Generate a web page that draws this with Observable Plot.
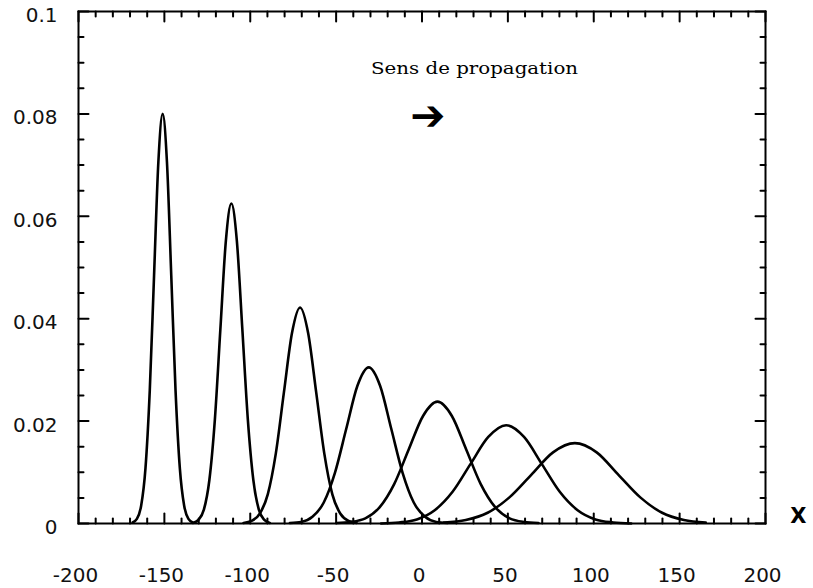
<!DOCTYPE html>
<html><head><meta charset="utf-8">
<script src="https://cdn.jsdelivr.net/npm/d3@7"></script>
<script src="https://cdn.jsdelivr.net/npm/@observablehq/plot@0.6"></script>
<style>body{margin:0;background:#fff;}#chart{width:813px;height:588px;}</style>
</head><body><div id="chart"></div>
<script>
// Axis ticks and labels
const xMajorTicks = [-200,-150,-100,-50,0,50,100,150,200];
const xTickLabels = ["-200","-150","-100","-50","0","50","100","150","200"];
const xMinorTicks = [-190,-180,-170,-160,-140,-130,-120,-110,-90,-80,-70,-60,-40,-30,-20,-10,10,20,30,40,60,70,80,90,110,120,130,140,160,170,180,190];
const yMajorTicks = [0,0.02,0.04,0.06,0.08,0.1];
const yTickLabels = ["0","0.02","0.04","0.06","0.08","0.1"];
const yMinorTicks = [0.005,0.01,0.015,0.025,0.03,0.035,0.045,0.05,0.055,0.065,0.07,0.075,0.085,0.09,0.095];

// Wave packets
const curve1X = [-168.5,-166,-163.5,-161,-158.5,-156,-153.5,-151,-148.5,-146,-143.5,-141,-138.5,-136,-133.5];
const curve1Y = [0.0002,0.0009,0.0035,0.0108,0.0260,0.0485,0.0706,0.0800,0.0706,0.0485,0.0260,0.0108,0.0035,0.0009,0.0002];
const curve2X = [-133.4,-130.2,-127,-123.8,-120.6,-117.4,-114.2,-111,-107.8,-104.6,-101.4,-98.2,-95,-91.8,-88.6];
const curve2Y = [0.0001,0.0007,0.0027,0.0085,0.0203,0.0379,0.0552,0.0625,0.0552,0.0379,0.0203,0.0085,0.0027,0.0007,0.0001];
const curve3X = [-103.9,-99.2,-94.5,-89.8,-85.1,-80.4,-75.7,-71,-66.3,-61.6,-56.9,-52.2,-47.5,-42.8,-38.1];
const curve3Y = [0.0001,0.0005,0.0019,0.0057,0.0137,0.0256,0.0372,0.0422,0.0372,0.0256,0.0137,0.0057,0.0019,0.0005,0.0001];
const curve4X = [-76.9,-70.3,-63.8,-57.2,-50.7,-44.1,-37.6,-31,-24.4,-17.9,-11.3,-4.8,1.8,8.3,14.9];
const curve4Y = [0.0001,0.0003,0.0013,0.0041,0.0099,0.0185,0.0269,0.0305,0.0269,0.0185,0.0099,0.0041,0.0013,0.0003,0.0001];
const curve5X = [-49.8,-41.4,-33,-24.6,-16.2,-7.8,0.6,9,17.4,25.8,34.2,42.6,51,59.4,67.8];
const curve5Y = [0.0001,0.0003,0.0010,0.0032,0.0077,0.0144,0.0210,0.0238,0.0210,0.0144,0.0077,0.0032,0.0010,0.0003,0.0001];
const curve6X = [-23.8,-13.4,-3,7.4,17.8,28.2,38.6,49,59.4,69.8,80.2,90.6,101,111.4,121.8];
const curve6Y = [0,0.0002,0.0008,0.0026,0.0062,0.0116,0.0169,0.0192,0.0169,0.0116,0.0062,0.0026,0.0008,0.0002,0];
const curve7X = [12.8,25.5,38.2,50.9,63.6,76.3,89,101.7,114.4,127.1,139.8,152.5,165.2];
const curve7Y = [0.0002,0.0007,0.0021,0.0051,0.0095,0.0139,0.0157,0.0139,0.0095,0.0051,0.0021,0.0007,0.0002];

// Annotations
const noteText = ["Sens de propagation"];
const noteX = [30.6];
const noteY = [0.0889];
const arrowGlyph = ["➔"];
const arrowX = [3.4];
const arrowY = [0.0795];
const axisName = ["X"];

const curvesX = [curve1X,curve2X,curve3X,curve4X,curve5X,curve6X,curve7X];
const curvesY = [curve1Y,curve2Y,curve3Y,curve4Y,curve5Y,curve6Y,curve7Y];
const rows = [];
curvesX.forEach((xs, k) => xs.forEach((x, i) => rows.push({id: k, x, y: curvesY[k][i]})));

const tickShape = {draw(ctx, l) { ctx.moveTo(0, 0); ctx.lineTo(0, -l); }};
const tk = {stroke: "black", strokeWidth: 2, anchor: "start", shape: tickShape};

const plot = Plot.plot({
  width: 813, height: 588,
  marginLeft: 78, marginRight: 48, marginTop: 11, marginBottom: 65,
  style: {fontFamily: "DejaVu Sans", fontSize: "20px", background: "white", color: "black"},
  x: {domain: [-200, 200]},
  y: {domain: [0, 0.1]},
  marks: [
    Plot.vector(xMajorTicks, {x: d => d, y: 0, length: 10, rotate: 0, ...tk}),
    Plot.vector(xMinorTicks, {x: d => d, y: 0, length: 5, rotate: 0, ...tk}),
    Plot.vector(xMajorTicks, {x: d => d, y: 0.1, length: 10, rotate: 180, ...tk}),
    Plot.vector(xMinorTicks, {x: d => d, y: 0.1, length: 5, rotate: 180, ...tk}),
    Plot.vector(yMajorTicks, {y: d => d, x: -200, length: 10, rotate: 90, ...tk}),
    Plot.vector(yMinorTicks, {y: d => d, x: -200, length: 5, rotate: 90, ...tk}),
    Plot.vector(yMajorTicks, {y: d => d, x: 200, length: 10, rotate: -90, ...tk}),
    Plot.vector(yMinorTicks, {y: d => d, x: 200, length: 5, rotate: -90, ...tk}),
    Plot.axisX(xMajorTicks, {anchor: "bottom", tickSize: 0, tickPadding: 44, dx: -3,
      tickFormat: d => xTickLabels[xMajorTicks.indexOf(d)], fontSize: 20, fontFamily: "DejaVu Sans", fill: "#111", label: null}),
    Plot.axisY(yMajorTicks, {anchor: "left", tickSize: 0, tickPadding: 21, dy: 4,
      tickFormat: d => yTickLabels[yMajorTicks.indexOf(d)], fontSize: 20, fontFamily: "DejaVu Sans", fill: "#111", label: null}),
    Plot.frame({stroke: "black", strokeWidth: 2}),
    Plot.line(rows, {x: "x", y: "y", z: "id", stroke: "black", strokeWidth: 2.6, curve: "monotone-x"}),
    Plot.text(noteText, {x: (d, i) => noteX[i], y: (d, i) => noteY[i], text: d => d,
      fontFamily: "DejaVu Serif", fontSize: 17, fill: "black"}),
    Plot.text(arrowGlyph, {x: (d, i) => arrowX[i], y: (d, i) => arrowY[i], text: d => d,
      fontFamily: "DejaVu Sans", fontSize: 42, fontWeight: "bold", fill: "black"}),
    Plot.text(axisName, {frameAnchor: "bottom-right", text: d => d, dx: 41, dy: -1,
      fontFamily: "DejaVu Sans", fontSize: 21, fontWeight: "bold", fill: "black"})
  ]
});
document.getElementById("chart").appendChild(plot);
plot.querySelectorAll("text").forEach(t => {
  if (t.textContent === noteText[0]) {
    t.setAttribute("textLength", "207");
    t.setAttribute("lengthAdjust", "spacingAndGlyphs");
  }
});
</script>
</body></html>
